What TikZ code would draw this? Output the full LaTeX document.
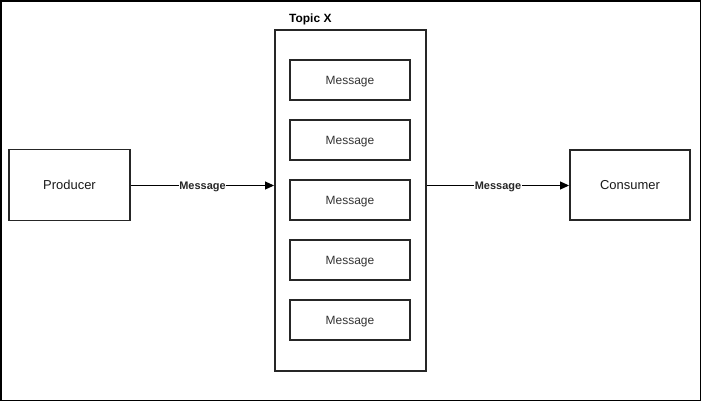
\documentclass[tikz,border=0pt]{standalone}
\usepackage{fontspec}
\setmainfont{Liberation Sans}
\usetikzlibrary{arrows.meta}
\begin{document}
\begin{tikzpicture}[x=1bp,y=-1bp,
  box/.style={draw=black!85,line width=1.9bp,fill=white,inner sep=0pt},
  msgbox/.style={box,minimum width=120bp,minimum height=40bp,font=\fontsize{12}{14}\selectfont,text=black!80,text height=8.6pt,text depth=0pt},
  endbox/.style={box,minimum width=121bp,minimum height=71bp,font=\fontsize{13}{15}\selectfont,text=black!90,text height=9.3pt,text depth=0pt},
  conn/.style={draw=black,line width=1bp,-{Triangle[length=9bp,width=8bp]}},
  elabel/.style={fill=white,inner sep=0.5pt,font=\bfseries\fontsize{11}{13}\selectfont,text=black!85,text height=7.9pt,text depth=0pt}]
\useasboundingbox (0,0) rectangle (701,401);
\draw[line width=1.5bp] (0.75,0.75) rectangle (700.25,400.25);
\node[box,minimum width=151bp,minimum height=341bp] (topic) at (350.5,200.5) {};
\node[font=\bfseries\fontsize{12}{14}\selectfont,anchor=west,inner sep=0pt] (tlabel) at (289,19.5) {Topic X};
\node[msgbox] (m1) at (350,80) {Message};
\node[msgbox] (m2) at (350,140) {Message};
\node[msgbox] (m3) at (350,200) {Message};
\node[msgbox] (m4) at (350,260) {Message};
\node[msgbox] (m5) at (350,320) {Message};
\node[endbox] (prod) at (69.5,185) {Producer};
\node[endbox,minimum width=120bp,minimum height=70bp] (cons) at (630,185) {Consumer};
\draw[conn] ([yshift=-0.5bp]prod.east) -- node[elabel] {Message} ([yshift=-0.5bp]prod.east -| topic.west);
\draw[conn] ([yshift=-0.5bp]cons.west -| topic.east) -- node[elabel] {Message} ([yshift=-0.5bp]cons.west);
\end{tikzpicture}
\end{document}
